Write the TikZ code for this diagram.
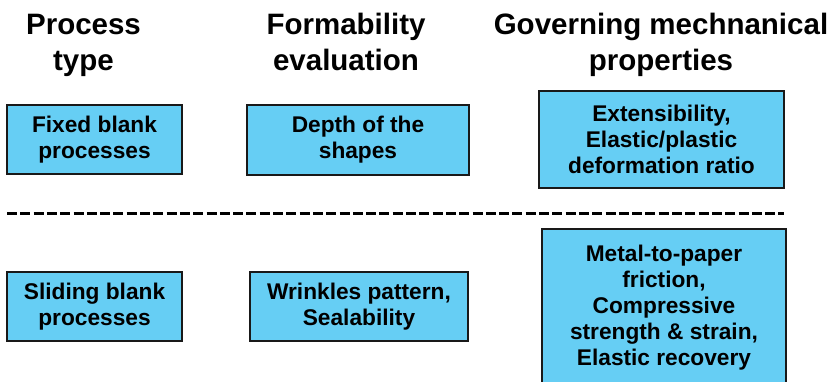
\documentclass[tikz,border=0pt]{standalone}
\usepackage{fontspec}
\setmainfont{Liberation Sans}
\definecolor{boxblue}{RGB}{102,206,244}
\definecolor{boxedge}{RGB}{25,25,25}
\begin{document}
\begin{tikzpicture}[x=1pt,y=-1pt,
  hdr/.style={anchor=north, inner sep=0pt, align=center, font=\fontsize{29.5}{36}\selectfont\bfseries},
  bluebox/.style={draw=boxedge, line width=1.8pt, fill=boxblue, align=center, inner sep=0pt, font=\fontsize{22.7}{26}\selectfont\bfseries},
  sepline/.style={line width=3pt, dash pattern=on 10pt off 3.3pt}]
\useasboundingbox (0,0) rectangle (839,382);
\clip (0,0) rectangle (839,382);
% headers
\node[hdr] (h1) at (83.5,12.5) {\rule{0pt}{21.5pt}Process\\type};
\node[hdr] (h2) at (346,12.5) {\rule{0pt}{21.5pt}Formability\\evaluation};
\node[hdr] (h3) at (661,12.5) {\rule{0pt}{21.5pt}Governing mechnanical\\properties};
% upper row
\node[bluebox, minimum width=175pt, minimum height=69pt] (a1) at (94.5,139.5) {Fixed blank\\processes};
\node[bluebox, minimum width=222pt, minimum height=70pt] (a2) at (358,140) {Depth of the\\shapes};
\node[bluebox, minimum width=245pt, minimum height=97pt] (a3) at (661.5,139.5) {Extensibility,\\Elastic/plastic\\deformation ratio};
% separator
\coordinate (dl) at (7,214);
\coordinate (dr) at (784,214);
\draw[sepline] (dl) -- (dr);
% lower row
\node[bluebox, minimum width=175pt, minimum height=69pt] (b1) at (94.5,306.5) {Sliding blank\\processes};
\node[bluebox, minimum width=218pt, minimum height=69pt] (b2) at (359,306.5) {Wrinkles pattern,\\Sealability};
\node[bluebox, minimum width=244pt, minimum height=158pt] (b3) at (664,308) {Metal-to-paper\\friction,\\Compressive\\strength \& strain,\\Elastic recovery};
\end{tikzpicture}
\end{document}
